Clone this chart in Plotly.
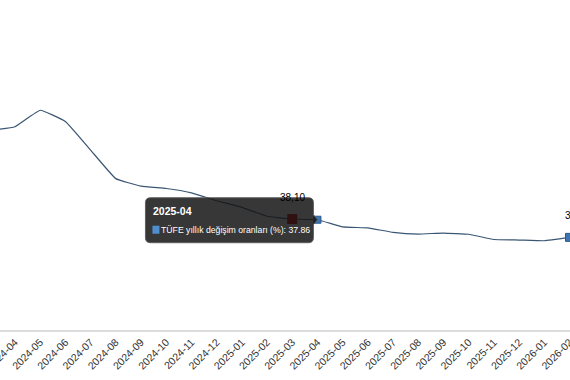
import plotly.graph_objects as go

months = ["2024-03", "2024-04", "2024-05", "2024-06", "2024-07", "2024-08", "2024-09",
          "2024-10", "2024-11", "2024-12", "2025-01", "2025-02", "2025-03", "2025-04",
          "2025-05", "2025-06", "2025-07", "2025-08", "2025-09", "2025-10", "2025-11",
          "2025-12", "2026-01", "2026-02"]
tufe = [68.50, 69.80, 75.45, 71.60, 61.78, 51.97, 49.38, 48.58, 47.09, 44.38, 42.12,
        39.05, 38.10, 37.86, 35.41, 35.05, 33.52, 32.95, 33.29, 32.87, 31.07, 30.89,
        30.65, 31.80]
series_name = "TÜFE yıllık değişim oranları (%)"
hover_month = "2025-04"
labeled_months = ["2025-03", "2026-02"]

LINE = "#3a5673"
BLUE = "#3d76b0"
FONT = "Liberation Sans"

idx = {m: i for i, m in enumerate(months)}
hv = tufe[idx[hover_month]]

fig = go.Figure()
fig.add_trace(go.Scatter(
    x=months, y=tufe, mode="lines", line=dict(color=LINE, width=1.2, shape="spline", smoothing=0.3),
    hoverinfo="skip", showlegend=False))

sel = labeled_months[0]
fig.add_trace(go.Scatter(
    x=[sel], y=[tufe[idx[sel]]], mode="markers",
    marker=dict(symbol="square", size=10, color="#c80000"),
    showlegend=False, hoverinfo="skip"))
last = labeled_months[1]
fig.add_trace(go.Scatter(
    x=[last], y=[tufe[idx[last]]], mode="markers",
    marker=dict(symbol="square", size=8, color=BLUE, line=dict(color="#2a5a8c", width=1)),
    showlegend=False, hoverinfo="skip"))
fig.add_trace(go.Scatter(
    x=[hover_month], y=[hv], mode="markers",
    marker=dict(symbol="square", size=7, color=BLUE, line=dict(color="#2a5a8c", width=1)),
    showlegend=False, hoverinfo="skip"))

for m, xs in zip(labeled_months, [0, 8]):
    fig.add_annotation(x=m, y=tufe[idx[m]], xref="x", yref="y",
                       text=f"{tufe[idx[m]]:.2f}".replace(".", ","), showarrow=False,
                       xanchor="center", yanchor="middle", yshift=22, xshift=xs,
                       font=dict(family=FONT, size=10, color="#000"))

# tooltip box anchored to hovered point
r = 5
x0, x1, y0, y1 = -172, -4, -23, 22
path = (f"M {x0+r},{y0} L {x1-r},{y0} Q {x1},{y0} {x1},{y0+r} L {x1},-5 L 0,0 L {x1},5 "
        f"L {x1},{y1-r} Q {x1},{y1} {x1-r},{y1} L {x0+r},{y1} Q {x0},{y1} {x0},{y1-r} "
        f"L {x0},{y0+r} Q {x0},{y0} {x0+r},{y0} Z")
fig.add_shape(type="path", xref="x", yref="y", xsizemode="pixel", ysizemode="pixel",
              xanchor=hover_month, yanchor=hv, path=path,
              fillcolor="rgba(20,20,20,0.85)", line=dict(color="rgba(90,90,90,0.9)", width=1),
              layer="above")
fig.add_shape(type="rect", xref="x", yref="y", xsizemode="pixel", ysizemode="pixel",
              xanchor=hover_month, yanchor=hv, x0=-165, x1=-158, y0=-14, y1=-6,
              fillcolor="#4f8fd0", line=dict(width=0), layer="above")
fig.add_annotation(x=hover_month, y=hv, xref="x", yref="y", text=f"<b>{hover_month}</b>",
                   showarrow=False, xanchor="left", yanchor="middle", xshift=-166, yshift=9,
                   font=dict(family=FONT, size=10.5, color="white"))
fig.add_annotation(x=hover_month, y=hv, xref="x", yref="y",
                   text=f"{series_name}: {hv:.2f}",
                   showarrow=False, xanchor="left", yanchor="middle", xshift=-158, yshift=-10,
                   font=dict(family=FONT, size=8.7, color="white"))

fig.update_layout(
    width=570, height=380, margin=dict(l=0, r=0, t=0, b=50, autoexpand=False),
    paper_bgcolor="white", plot_bgcolor="white",
    xaxis=dict(type="category", range=[0.406, 23.02], tickangle=-45, showgrid=False,
               automargin=False,
               showline=True, linecolor="#dcdcdc", linewidth=2, ticks="", zeroline=False,
               tickfont=dict(family=FONT, size=10.5, color="#333")),
    yaxis=dict(range=[0, 113.3], visible=False, showgrid=False, zeroline=False,
               automargin=False),
)
fig.write_html("out.html", config={"displayModeBar": False},
               post_script="document.body.style.margin='0';")
